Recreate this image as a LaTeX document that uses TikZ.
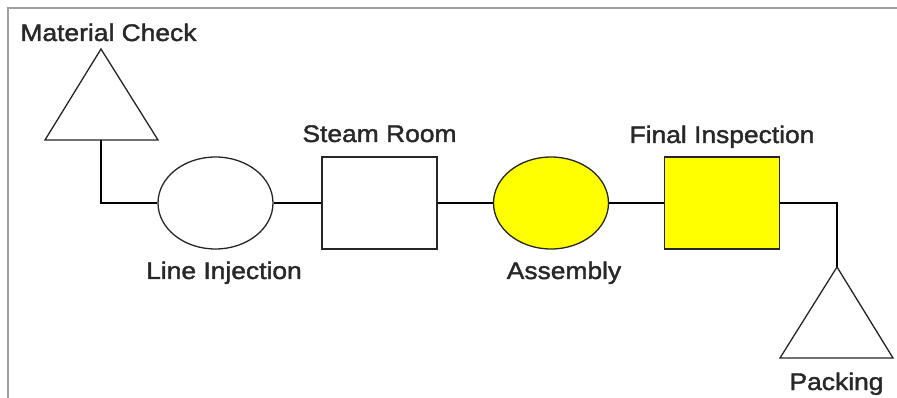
\documentclass[tikz,border=0pt]{standalone}
\usepackage{fontspec}
\newfontfamily\lblfont[FakeStretch=1.1,FakeBold=1.6]{Liberation Sans}
\usetikzlibrary{shapes.geometric}
\definecolor{lbltext}{HTML}{282828}
\definecolor{framegray}{HTML}{A0A0A0}
\definecolor{hiyellow}{HTML}{FFFF00}
\tikzset{
  outline/.style={draw=black!85, line width=1.3pt},
  oval/.style={outline, ellipse, minimum width=115pt, minimum height=92pt, inner sep=0pt},
  block/.style={outline, rectangle, minimum width=115pt, minimum height=92pt, inner sep=0pt},
  wire/.style={draw=black, line width=1.2pt},
  lbl/.style={font=\lblfont\fontsize{24}{28}\selectfont, text=lbltext, anchor=base, inner sep=0pt},
  frame/.style={draw=framegray, line width=1.5pt}
}
\begin{document}
\begin{tikzpicture}[x=1pt, y=-1pt]
  \useasboundingbox (0,0) rectangle (897,398);
  \fill[white] (0,0) rectangle (897,398);
  % frame edges
  \draw[frame] (8,398) -- (8,8) -- (897,8);

  % storage triangle at the start
  \coordinate (mcTop) at (101,49);
  \coordinate (mcBase) at (101,140);
  \draw[outline, line join=miter] (45,140) -- (mcTop) -- (158,140) -- cycle;

  % process steps
  \node[oval] (inj) at (215.5,203) {};
  \node[block] (steam) at (379.5,203) {};
  \node[oval, fill=hiyellow] (asm) at (551,203) {};
  \node[block, fill=hiyellow] (insp) at (722,203) {};

  % packing triangle at the end
  \coordinate (pkTop) at (837,267);
  \draw[outline, line join=miter] (780,358) -- (pkTop) -- (893,358) -- cycle;

  % connectors
  \draw[wire] (mcBase) |- (inj.west);
  \draw[wire] (inj.east) -- (steam.west);
  \draw[wire] (steam.east) -- (asm.west);
  \draw[wire] (asm.east) -- (insp.west);
  \draw[wire] (insp.east) -| (pkTop);

  % labels
  \node[lbl] (lmc) at (108.5,41) {Material Check};
  \node[lbl] (lsteam) at (379.5,142) {Steam Room};
  \node[lbl] (linsp) at (722,143) {Final Inspection};
  \node[lbl] (linj) at (224,279) {Line Injection};
  \node[lbl] (lasm) at (564,279) {Assembly};
  \node[lbl] (lpk) at (836.5,390) {Packing};
\end{tikzpicture}
\end{document}
